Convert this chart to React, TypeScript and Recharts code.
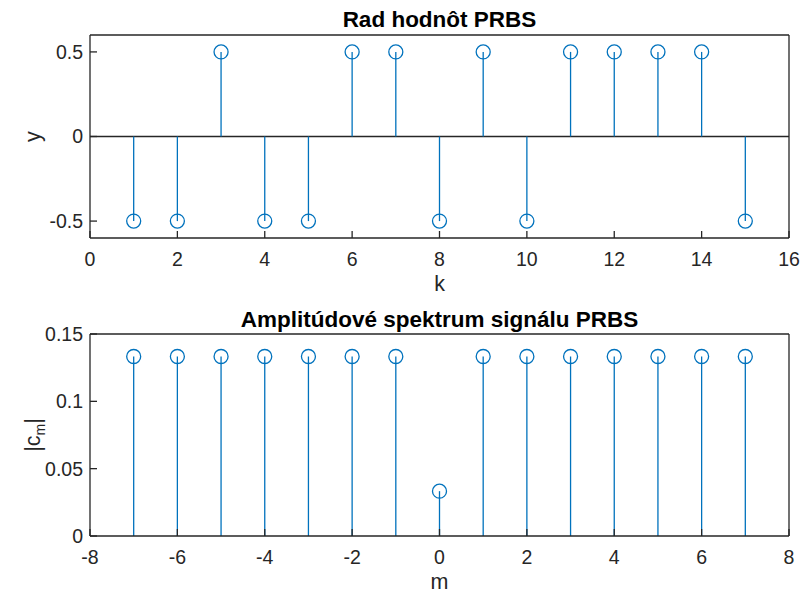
import React from 'react'
import {
  ComposedChart,
  Scatter,
  XAxis,
  YAxis,
  ReferenceLine,
  Label,
} from 'recharts'

// PRBS sequence values, k = 1..15
const kValues = [1, 2, 3, 4, 5, 6, 7, 8, 9, 10, 11, 12, 13, 14, 15]
const prbsValues = [-0.5, -0.5, 0.5, -0.5, -0.5, 0.5, 0.5, -0.5, 0.5, -0.5, 0.5, 0.5, 0.5, 0.5, -0.5]

// amplitude spectrum |c_m|, m = -7..7
const mValues = [-7, -6, -5, -4, -3, -2, -1, 0, 1, 2, 3, 4, 5, 6, 7]
const cmValues = [
  0.1333, 0.1333, 0.1333, 0.1333, 0.1333, 0.1333, 0.1333, 0.0333,
  0.1333, 0.1333, 0.1333, 0.1333, 0.1333, 0.1333, 0.1333,
]

const kTicks = [0, 2, 4, 6, 8, 10, 12, 14, 16]
const yTicksTop = [-0.5, 0, 0.5]
const mTicks = [-8, -6, -4, -2, 0, 2, 4, 6, 8]
const yTicksBottom = [0, 0.05, 0.1, 0.15]

const FONT = '"Liberation Sans", Arial, Helvetica, sans-serif'
const AXIS = '#262626'
const BLUE = '#0072BD'
const W = 802

const tickStyle = { fontSize: 19.5, fill: AXIS, fontFamily: FONT }
const axisLineStyle = { stroke: AXIS, strokeWidth: 1.3 }

const topData = kValues.map((k, i) => ({ x: k, y: prbsValues[i] }))
const bottomData = mValues.map((m, i) => ({ x: m, y: cmValues[i] }))

// open circle marker of a stem plot
function StemMarker(props: any) {
  const { cx, cy } = props
  return <circle cx={cx} cy={cy} r={7} fill="none" stroke={BLUE} strokeWidth={1.3} />
}

function YLabel({ viewBox, children }: any) {
  const x = viewBox.x + 40
  const y = viewBox.y + viewBox.height / 2
  return (
    <text
      x={x}
      y={y}
      transform={`rotate(-90, ${x}, ${y})`}
      textAnchor="middle"
      fontSize={21.5}
      fill={AXIS}
      fontFamily={FONT}
    >
      {children}
    </text>
  )
}

function StemPanel({
  data, height, marginTop, topAxisH, xDomain, xTicks, yDomain, yTicks,
  title, titleOffset, xLabel, xLabelOffset, yLabel, showBaseline,
}: {
  data: { x: number; y: number }[]
  height: number
  marginTop: number
  topAxisH: number
  xDomain: [number, number]
  xTicks: number[]
  yDomain: [number, number]
  yTicks: number[]
  title: string
  titleOffset: number
  xLabel: string
  xLabelOffset: number
  yLabel: React.ReactNode
  showBaseline: boolean
}) {
  return (
    <ComposedChart
      width={W}
      height={height}
      data={data}
      margin={{ top: marginTop, right: 0, bottom: 0, left: 0 }}
    >
      <XAxis
        xAxisId="b"
        dataKey="x"
        type="number"
        domain={xDomain}
        ticks={xTicks}
        interval={0}
        height={59}
        tickSize={-7}
        tickMargin={21}
        tick={tickStyle}
        axisLine={axisLineStyle}
        tickLine={axisLineStyle}
      >
        <Label
          value={xLabel}
          position="insideBottom"
          offset={xLabelOffset}
          style={{ fontSize: 21.5, fill: AXIS, fontFamily: FONT }}
        />
      </XAxis>
      <XAxis
        xAxisId="t"
        orientation="top"
        type="number"
        domain={xDomain}
        ticks={xTicks}
        interval={0}
        height={topAxisH}
        tickSize={-7}
        tick={false}
        axisLine={axisLineStyle}
        tickLine={axisLineStyle}
      >
        <Label
          value={title}
          position="insideBottom"
          offset={titleOffset}
          style={{ fontSize: 22.5, fontWeight: 'bold', fill: '#000', fontFamily: FONT }}
        />
      </XAxis>
      <YAxis
        yAxisId="l"
        dataKey="y"
        type="number"
        domain={yDomain}
        ticks={yTicks}
        interval={0}
        width={90}
        tickSize={-7}
        tickMargin={14}
        tick={tickStyle}
        tickFormatter={(v: number) => String(v)}
        axisLine={axisLineStyle}
        tickLine={axisLineStyle}
      >
        <Label content={(p: any) => <YLabel viewBox={p.viewBox}>{yLabel}</YLabel>} />
      </YAxis>
      <YAxis
        yAxisId="r"
        orientation="right"
        type="number"
        domain={yDomain}
        ticks={yTicks}
        interval={0}
        width={13}
        tickSize={-7}
        tick={false}
        axisLine={axisLineStyle}
        tickLine={axisLineStyle}
      />
      {showBaseline && (
        <ReferenceLine xAxisId="b" yAxisId="l" y={0} stroke={AXIS} strokeWidth={1.3} />
      )}
      {data.map(d => (
        <ReferenceLine
          key={d.x}
          xAxisId="b"
          yAxisId="l"
          segment={[{ x: d.x, y: 0 }, { x: d.x, y: d.y }]}
          stroke={BLUE}
          strokeWidth={1.3}
        />
      ))}
      <Scatter
        xAxisId="b"
        yAxisId="l"
        dataKey="y"
        shape={<StemMarker />}
        isAnimationActive={false}
      />
    </ComposedChart>
  )
}

export default function App() {
  return (
    <div style={{ position: 'fixed', left: 0, top: 0, width: W, height: 595, background: '#fff' }}>
      <div style={{ position: 'absolute', left: 0, top: 0 }}>
        <StemPanel
          data={topData}
          height={297}
          marginTop={5}
          topAxisH={30}
          xDomain={[0, 16]}
          xTicks={kTicks}
          yDomain={[-0.6, 0.6]}
          yTicks={yTicksTop}
          title="Rad hodnôt PRBS"
          titleOffset={8}
          xLabel="k"
          xLabelOffset={6}
          yLabel="y"
          showBaseline
        />
      </div>
      <div style={{ position: 'absolute', left: 0, top: 297 }}>
        <StemPanel
          data={bottomData}
          height={298}
          marginTop={5}
          topAxisH={32}
          xDomain={[-8, 8]}
          xTicks={mTicks}
          yDomain={[0, 0.15]}
          yTicks={yTicksBottom}
          title="Amplitúdové spektrum signálu PRBS"
          titleOffset={7}
          xLabel="m"
          xLabelOffset={6}
          yLabel={
            <>
              |c
              <tspan fontSize={14} dy={5}>m</tspan>
              <tspan dy={-5}>|</tspan>
            </>
          }
          showBaseline={false}
        />
      </div>
    </div>
  )
}
